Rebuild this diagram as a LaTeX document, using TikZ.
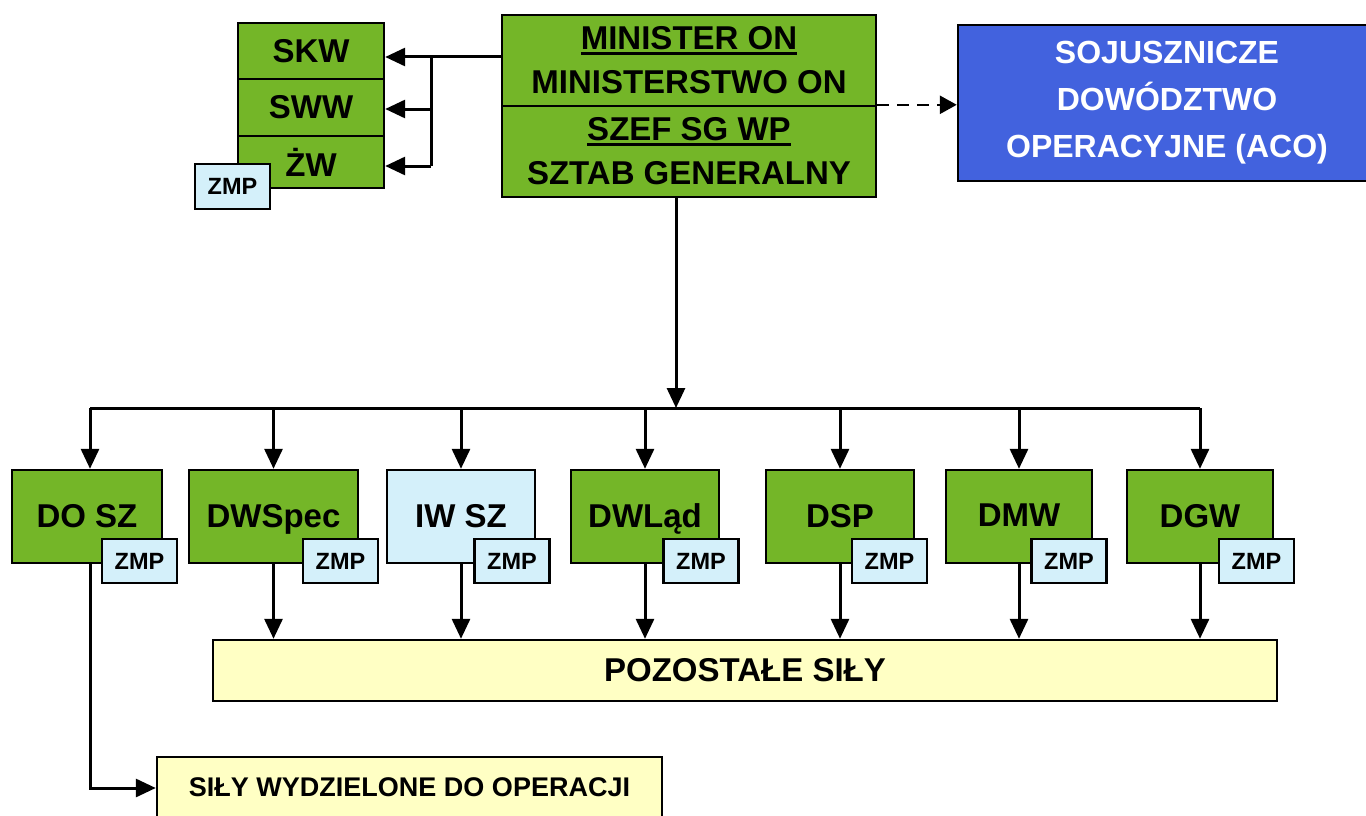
\documentclass[tikz,border=0pt]{standalone}
\usepackage{fontspec}
\setmainfont{Liberation Sans}
\usetikzlibrary{arrows.meta}
\definecolor{grn}{RGB}{116,182,40}
\definecolor{lblue}{RGB}{212,240,250}
\definecolor{ylw}{RGB}{255,255,196}
\definecolor{acoblue}{RGB}{66,98,222}
\newcommand\myul[1]{\setbox0\hbox{#1}\rlap{\rule[-5pt]{\wd0}{2.6pt}}\box0}
\begin{document}
\begin{tikzpicture}[x=1pt,y=-1pt,
  box/.style={draw=black, line width=2.4pt, inner sep=0pt, align=center,
    font=\bfseries\fontsize{33}{44}\selectfont},
  gbox/.style={box, fill=grn},
  zmp/.style={box, fill=lblue, minimum width=75pt, minimum height=44pt,
    font=\bfseries\fontsize{23.5}{28}\selectfont},
  bot/.style={box, minimum height=93pt, text depth=2pt},
  ybox/.style={box, fill=ylw, minimum height=61pt},
  conn/.style={line width=3pt},
  arr/.style={conn, -{Triangle[length=20pt,width=18pt]}},
  darr/.style={line width=2.6pt, dash pattern=on 12pt off 8pt, -{Triangle[length=17pt,width=18pt]}}
]
\useasboundingbox (0,0) rectangle (1366,816);

% top-left stack
\node[gbox, minimum width=146pt, minimum height=56pt] (skw) at (311,51) {SKW};
\node[gbox, minimum width=146pt, minimum height=57pt] (sww) at (311,107.5) {SWW};
\node[gbox, minimum width=146pt, minimum height=52pt] (zw) at (311,162) {ŻW};
\node[zmp, minimum height=45pt] (zmp0) at (232.5,186.5) {ZMP};

% ministry
\node[gbox, minimum width=374pt, minimum height=91pt] (min) at (689,60.5) {\myul{MINISTER ON}\\MINISTERSTWO ON};
\node[gbox, minimum width=374pt, minimum height=91pt] (sg) at (689,151.5) {\myul{SZEF SG WP}\\SZTAB GENERALNY};

% ACO
\node[box, fill=acoblue, text=white, minimum width=418pt, minimum height=156pt,
  font=\bfseries\fontsize{32}{47}\selectfont] (aco) at (1167,103) {SOJUSZNICZE\\DOWÓDZTWO\\OPERACYJNE (ACO)};

% bottom row
\node[bot, fill=grn, minimum width=150pt] (dosz) at (87,516.5) {DO SZ};
\node[bot, fill=grn, minimum width=169pt] (dwspec) at (273.5,516.5) {DWSpec};
\node[bot, fill=lblue, minimum width=148pt] (iwsz) at (461,516.5) {IW SZ};
\node[bot, fill=grn, minimum width=148pt] (dwlad) at (645,516.5) {DWLąd};
\node[bot, fill=grn, minimum width=148pt] (dsp) at (840,516.5) {DSP};
\node[bot, fill=grn, minimum width=146pt] (dmw) at (1019,516.5) {DMW};
\node[bot, fill=grn, minimum width=146pt] (dgw) at (1200,516.5) {DGW};

\node[zmp] (z1) at (139.5,561) {ZMP};
\node[zmp] (z2) at (340.5,561) {ZMP};
\node[zmp] (z3) at (512,561) {ZMP};
\node[zmp] (z4) at (701,561) {ZMP};
\node[zmp] (z5) at (889.5,561) {ZMP};
\node[zmp] (z6) at (1069,561) {ZMP};
\node[zmp] (z7) at (1256.5,561) {ZMP};

\node[ybox, minimum width=1064pt] (poz) at (745,670.5) {POZOSTAŁE SIŁY};
\node[ybox, minimum width=505pt, font=\bfseries\fontsize{27}{32}\selectfont] (sily) at (409.5,787.5) {SIŁY WYDZIELONE DO OPERACJI};

% connectors top-left
\coordinate (j1) at (431,57);
\coordinate (j2) at (431,109);
\coordinate (j3) at (431,166);
\draw[arr] (min.west|-j1) -- (skw.east|-j1);
\draw[conn] (j1) -- (j3);
\draw[arr] (j2) -- (sww.east|-j2);
\draw[arr] (j3) -- (zw.east|-j3);

% dashed to ACO
\draw[darr] (sg.north east) -- (aco.west|-sg.north east);

% main vertical and bus
\coordinate (bus) at (676,408);
\draw[arr] (bus|-sg.south) -- (bus);
\coordinate (b0) at (90,408);
\draw[conn] (b0) -- (dgw.north|-bus);
\draw[arr] (b0) -- (b0|-dosz.north);
\foreach \n in {dwspec,iwsz,dwlad,dsp,dmw,dgw}{
  \draw[arr] (\n.north|-bus) -- (\n.north);
}
\foreach \n in {dwspec,iwsz,dwlad,dsp,dmw,dgw}{
  \draw[arr] (\n.south) -- (\n.south|-poz.north);
}

% DO SZ to SILY
\coordinate (c1) at (90,788);
\draw[arr] (b0|-dosz.south) -- (c1) -- (sily.west|-c1);
\end{tikzpicture}
\end{document}
